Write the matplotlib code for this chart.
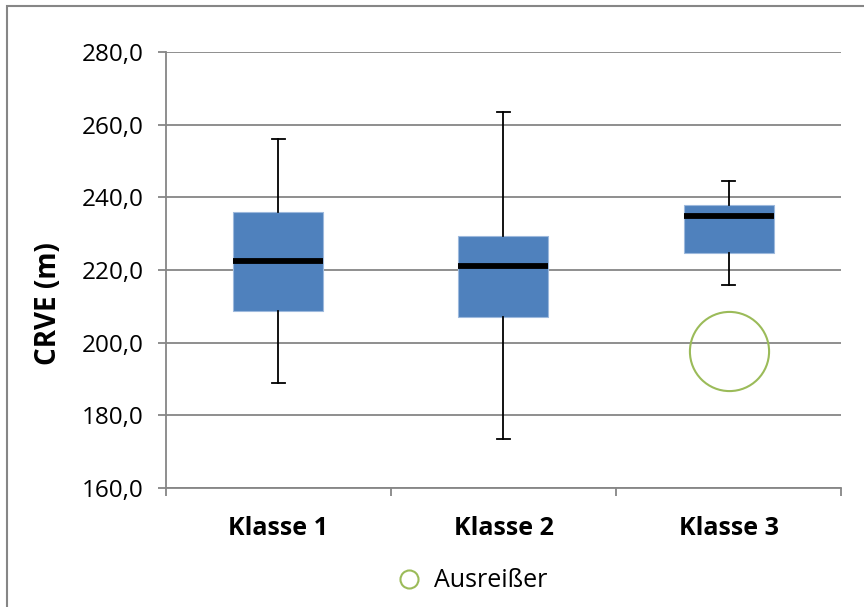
import matplotlib.pyplot as plt
from matplotlib.lines import Line2D
from matplotlib.patches import Rectangle
from matplotlib.ticker import FuncFormatter

plt.rcParams['font.family'] = ['Open Sans', 'DejaVu Sans']

classes = ["Klasse 1", "Klasse 2", "Klasse 3"]
whisker_low = [188.9, 173.5, 215.9]
q1 = [208.7, 207.1, 224.8]
median = [222.6, 221.0, 235.0]
q3 = [236.0, 229.5, 237.9]
whisker_high = [256.1, 263.5, 244.5]
outliers = [[], [], [197.7]]

stats = []
for i, name in enumerate(classes):
    stats.append({
        "label": name,
        "whislo": whisker_low[i],
        "q1": q1[i],
        "med": median[i],
        "q3": q3[i],
        "whishi": whisker_high[i],
        "fliers": outliers[i],
    })

grey = "#868686"
blue = "#4F81BD"
green = "#9BBB59"

fig = plt.figure(figsize=(8.64, 6.07), dpi=100)
ax = fig.add_axes([0.1921, 0.196, 0.7813, 0.7183])

ax.bxp(stats, positions=[1, 2, 3], widths=0.4, patch_artist=True,
       capwidths=0.055,
       boxprops=dict(facecolor=blue, edgecolor="#9DB9DD", linewidth=0.8),
       medianprops=dict(color="black", linewidth=4.2, solid_capstyle="butt"),
       whiskerprops=dict(color="black", linewidth=1.3),
       capprops=dict(color="black", linewidth=1.3),
       flierprops=dict(marker="o", markersize=57, markerfacecolor="none",
                       markeredgecolor=green, markeredgewidth=1.5),
       zorder=3)

ax.set_xlim(0.5, 3.5)
ax.set_ylim(160, 280)
ax.set_yticks(range(160, 281, 20))
ax.yaxis.set_major_formatter(FuncFormatter(lambda v, p: f"{v:.1f}".replace(".", ",")))
ax.grid(axis="y", color=grey, linewidth=1.3, zorder=0)
ax.set_axisbelow(True)

ax.set_xticks([0.5, 1.5, 2.5, 3.5])
ax.set_xticklabels([])
ax.set_xticks([1, 2, 3], minor=True)
ax.set_xticklabels(classes, minor=True, fontsize=18, fontweight="bold")
ax.tick_params(axis="x", which="minor", length=0, pad=20)
ax.tick_params(axis="x", which="major", length=6, color=grey, width=1.3)
ax.tick_params(axis="y", length=6, color=grey, width=1.3, labelsize=17.5, pad=10)

for side in ["top", "right"]:
    ax.spines[side].set_visible(False)
for side in ["left", "bottom"]:
    ax.spines[side].set_color(grey)
    ax.spines[side].set_linewidth(1.3)

fig.text(48 / 864, 0.5, "CRVE (m)", rotation=90, ha="center", va="center",
         fontsize=20, fontweight="bold")

handle = Line2D([], [], linestyle="none", marker="o", markersize=13,
                markerfacecolor="none", markeredgecolor=green, markeredgewidth=1.5)
fig.legend([handle], ["Ausreißer"], loc="center", bbox_to_anchor=(0.546, 0.043),
           frameon=False, fontsize=18, handletextpad=0.5, handlelength=1.0)

fig.patches.append(Rectangle((7 / 864, -0.1), 1.2, 1.1 - 6 / 607,
                             transform=fig.transFigure, fill=False,
                             edgecolor=grey, linewidth=1.5))

fig.savefig("out.png", dpi=100)
